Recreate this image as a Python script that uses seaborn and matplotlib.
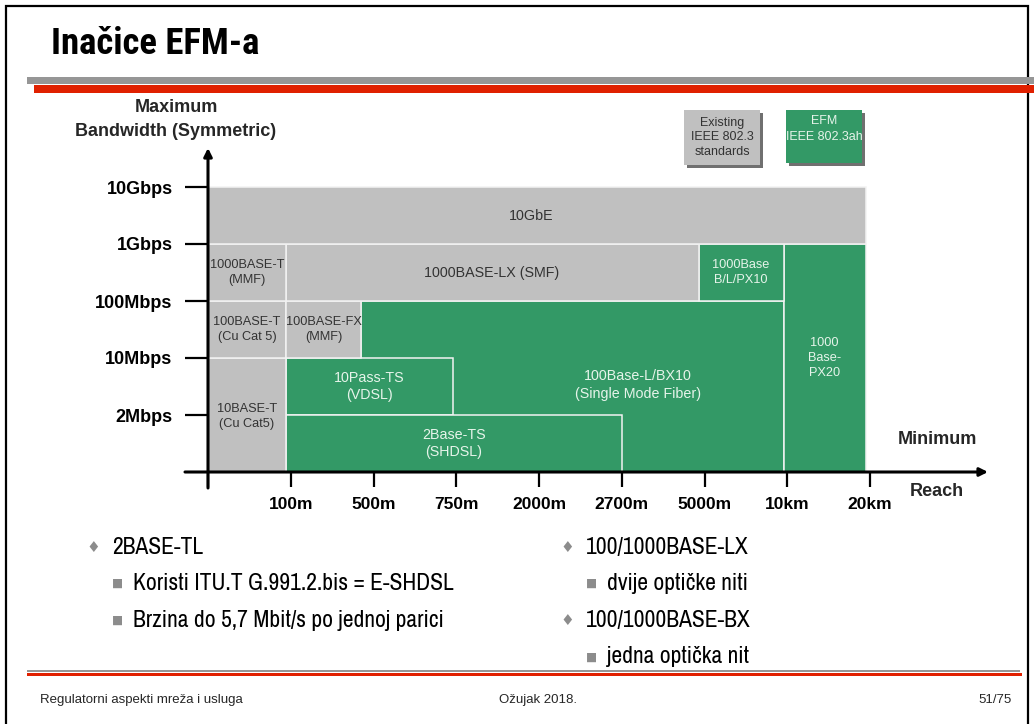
import matplotlib
matplotlib.use("Agg")
import matplotlib.pyplot as plt
from matplotlib.patches import Rectangle
import seaborn as sns

# ---------------- data ----------------
reach_labels = ["", "100m", "500m", "750m", "2000m", "2700m", "5000m", "10km", "20km"]
bandwidth_labels = ["2Mbps", "10Mbps", "100Mbps", "1Gbps", "10Gbps"]

# standards: label, reach start, reach end, bandwidth start, bandwidth end, group
std_labels = ["100Base-L/BX10\n(Single Mode Fiber)", "10Pass-TS\n(VDSL)", "2Base-TS\n(SHDSL)",
              "10BASE-T\n(Cu Cat5)", "100BASE-T\n(Cu Cat 5)", "100BASE-FX\n(MMF)",
              "1000\nBase-\nPX20", "1000Base\nB/L/PX10", "1000BASE-LX (SMF)",
              "1000BASE-T\n(MMF)", "10GbE"]
std_x0 = [1.85, 0.94, 0.94, 0.0, 0.0, 0.94, 6.96, 5.93, 0.94, 0.0, 0.0]
std_x1 = [6.96, 2.96, 5.0, 0.94, 0.94, 1.85, 7.95, 6.96, 5.93, 0.94, 7.95]
std_y0 = [0, 1, 0, 0, 2, 2, 0, 3, 3, 3, 4]
std_y1 = [3, 2, 1, 2, 3, 3, 4, 4, 4, 4, 5]
std_group = ["EFM", "EFM", "EFM", "IEEE", "IEEE", "IEEE", "EFM", "EFM", "IEEE", "IEEE", "IEEE"]
# label anchor (reach, bandwidth) for text
std_tx = [5.2, 1.95, 2.97, 0.47, 0.47, 1.4, 7.45, 6.44, 3.43, 0.47, 3.9]
std_ty = [1.52, 1.5, 0.5, 0.98, 2.5, 2.5, 2.0, 3.5, 3.5, 3.5, 4.5]

legend_labels = ["Existing\nIEEE 802.3\nstandards", "EFM\nIEEE 802.3ah"]

bullets_left = [("main", "2BASE-TL"),
                ("sub", "Koristi ITU.T G.991.2.bis = E-SHDSL"),
                ("sub", "Brzina do 5,7 Mbit/s po jednoj parici")]
bullets_right = [("main", "100/1000BASE-LX"),
                 ("sub", "dvije optičke niti"),
                 ("main", "100/1000BASE-BX"),
                 ("sub", "jedna optička nit")]

title = "Inačice EFM-a"
footer_left = "Regulatorni aspekti mreža i usluga"
footer_mid = "Ožujak 2018."
footer_right = "51/75"

# ---------------- style ----------------
sns.set_theme(style="white")
NARROW = ["Archivo Narrow", "Liberation Sans Narrow", "Liberation Sans", "DejaVu Sans"]
NARROW_BOLD = ["Roboto Condensed", "Liberation Sans Narrow", "Liberation Sans", "DejaVu Sans"]
SANS = ["Liberation Sans", "DejaVu Sans"]
plt.rcParams["font.family"] = SANS

GRAY = "#C0C0C0"
GREEN = "#339966"
RED = "#E02000"
BAR_GRAY = "#969696"
colors = {"IEEE": GRAY, "EFM": GREEN}
txtcol = {"IEEE": "#333333", "EFM": "#E6F4EA"}

W, H = 1034, 724
fig = plt.figure(figsize=(W / 100, H / 100), dpi=100)
fig.patch.set_facecolor("white")


def fx(x):
    return x / W


def fy(y):
    return 1 - y / H


def frect(x0, y0, x1, y1, color, **kw):
    fig.add_artist(Rectangle((fx(x0), fy(y1)), fx(x1) - fx(x0), fy(y0) - fy(y1),
                             transform=fig.transFigure, facecolor=color,
                             edgecolor="none", **kw))


# slide border
fig.add_artist(Rectangle((fx(6), fy(740)), fx(1028) - fx(6), fy(6) - fy(740),
                         transform=fig.transFigure, facecolor="none",
                         edgecolor="black", linewidth=1.6))

# header
fig.text(fx(51), fy(44), title, family=NARROW_BOLD, fontsize=26.5, fontweight="bold",
         va="center", ha="left", color="black")
frect(27, 77, 1034, 84, BAR_GRAY)
frect(34, 85, 1034, 93, RED)

# footer
frect(27, 670, 1020, 672, BAR_GRAY)
frect(27, 673, 1022, 676, RED)
fig.text(fx(40), fy(700), footer_left, family=SANS, fontsize=9.5, va="center", ha="left")
fig.text(fx(538), fy(700), footer_mid, family=SANS, fontsize=9.5, va="center", ha="center")
fig.text(fx(1012), fy(700), footer_right, family=SANS, fontsize=9.5, va="center", ha="right")

# ---------------- chart axes ----------------
L, R, T, B = 100, 1000, 140, 520
X0PX, XSTEP = 208, 82.75
Y0PX, YSTEP = 472, 57.0
ax = fig.add_axes([fx(L), fy(B), fx(R) - fx(L), fy(T) - fy(B)])
ax.set_xlim((L - X0PX) / XSTEP, (R - X0PX) / XSTEP)
ax.set_ylim((Y0PX - B) / YSTEP, (Y0PX - T) / YSTEP)
ax.patch.set_alpha(0)

for lab, x0, x1, y0, y1, g, tx, ty in zip(std_labels, std_x0, std_x1, std_y0, std_y1,
                                           std_group, std_tx, std_ty):
    ax.bar(x0, y1 - y0, width=x1 - x0, bottom=y0, align="edge", color=colors[g],
           edgecolor="#F2F2F2", linewidth=1.1, zorder=2)
    small = (x1 - x0) < 1.2
    ax.text(tx, ty, lab, ha="center", va="center", color=txtcol[g],
            fontsize=9.2 if small else 10.3, linespacing=1.35, zorder=3)

# axes lines with arrows
xa0 = (185 - X0PX) / XSTEP
xa1 = (988 - X0PX) / XSTEP
ya0 = (Y0PX - 488) / YSTEP
ya1 = (Y0PX - 148) / YSTEP
ax.annotate("", xy=(xa1, 0), xytext=(xa0, 0),
            arrowprops=dict(arrowstyle="-|>", lw=2.2, color="black", mutation_scale=12,
                            shrinkA=0, shrinkB=0), zorder=5)
ax.annotate("", xy=(0, ya1), xytext=(0, ya0),
            arrowprops=dict(arrowstyle="-|>", lw=2.2, color="black", mutation_scale=12,
                            shrinkA=0, shrinkB=0), zorder=5)

for s in ax.spines.values():
    s.set_visible(False)
ax.spines["bottom"].set_position(("data", 0))
ax.spines["left"].set_position(("data", 0))
ax.set_xticks(range(len(reach_labels)))
ax.set_xticklabels(reach_labels)
ax.set_yticks(range(1, len(bandwidth_labels) + 1))
ax.set_yticklabels(bandwidth_labels)
ax.tick_params(axis="x", direction="out", length=11, width=1.6, color="black",
               pad=7, labelsize=12.5, bottom=True)
ax.tick_params(axis="y", direction="out", length=16.5, width=1.6, color="black",
               pad=9, labelsize=13, left=True)
for t in ax.get_xticklabels() + ax.get_yticklabels():
    t.set_fontweight("bold")
    t.set_color("black")
ax.grid(False)

# axis titles
fig.text(fx(176), fy(108), "Maximum", fontsize=13, fontweight="bold", ha="center", va="center")
fig.text(fx(176), fy(131), "Bandwidth (Symmetric)", fontsize=13, fontweight="bold",
         ha="center", va="center")
fig.text(fx(937), fy(440), "Minimum", fontsize=13, fontweight="bold", ha="center", va="center")
fig.text(fx(937), fy(492), "Reach", fontsize=13, fontweight="bold", ha="center", va="center")

# legend boxes
frect(687, 113, 763, 168, "#707070")
frect(684, 110, 760, 165, GRAY)
fig.text(fx(722), fy(137.5), legend_labels[0], fontsize=9, color="#333333",
         ha="center", va="center", linespacing=1.25)
frect(789, 113, 865, 166, "#707070")
frect(786, 110, 862, 163, GREEN)
fig.text(fx(824), fy(129), legend_labels[1], fontsize=9, color="#E6F4EA",
         ha="center", va="center", linespacing=1.35)


# bullets
def draw_bullets(items, x_main, y_start, dy=36.6):
    y = y_start
    for kind, txt in items:
        if kind == "main":
            fig.text(fx(x_main - 19), fy(y), "\u2666", family=["DejaVu Sans"], fontsize=11,
                     color="#8C8C8C", ha="center", va="center")
            fig.text(fx(x_main), fy(y), txt, family=NARROW, fontsize=17,
                     ha="left", va="center", color="black")
        else:
            fig.text(fx(x_main + 6), fy(y), "\u25A0", family=["DejaVu Sans"], fontsize=8.5,
                     color="#8C8C8C", ha="center", va="center")
            fig.text(fx(x_main + 21), fy(y), txt, family=NARROW, fontsize=17,
                     ha="left", va="center", color="black")
        y += dy


draw_bullets(bullets_left, 112, 547)
draw_bullets(bullets_right, 586, 547)

fig.savefig("out.png", dpi=100, facecolor="white")
